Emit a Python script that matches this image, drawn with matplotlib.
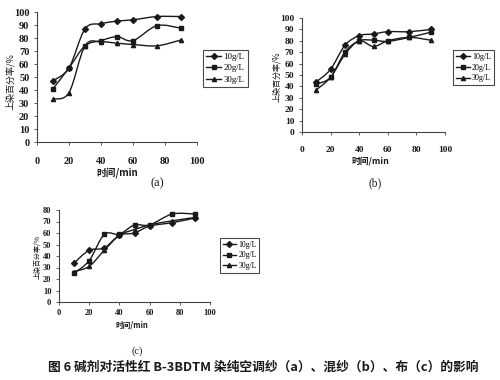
import numpy as np
import matplotlib
matplotlib.use("Agg")
import matplotlib.pyplot as plt
from matplotlib.path import Path
from matplotlib.patches import PathPatch
from matplotlib.lines import Line2D

plt.rcParams['font.family'] = ['Liberation Serif', 'Noto Sans CJK SC', 'DejaVu Sans']

# time points (min)
t = [10, 20, 30, 40, 50, 60, 75, 90]
labels = ['10g/L', '20g/L', '30g/L']

# (a) 纯空调纱
a_10 = [47, 57, 87, 91, 93, 94, 96.5, 96.5]
a_20 = [41, 57, 74, 78, 81, 78, 89.5, 87.5]
a_30 = [33, 38, 74, 77, 76, 75, 74, 78.5]

# (b) 混纱
b_10 = [44, 55, 76, 84.5, 86, 88, 88, 90]
b_20 = [42, 48, 70, 80, 80.5, 79.5, 83, 87.5]
b_30 = [37, 48, 68, 80, 75, 80, 83, 80.5]

# (c) 布
c_10 = [34, 45, 47, 58, 60, 66, 69, 73]
c_20 = [25, 36, 58.7, 59, 67, 67, 76.5, 76.5]
c_30 = [26.5, 31, 45, 58, 63, 67, 70.6, 73.5]

markers = ['D', 's', '^']
INK = '#1a1a1a'


def smooth_path(x, y):
    # excel-style smoothed line: cubic bezier through the points
    x = np.asarray(x, float)
    y = np.asarray(y, float)
    n = len(x)
    verts = [(x[0], y[0])]
    codes = [Path.MOVETO]
    for i in range(n - 1):
        x0, y0 = (x[i - 1], y[i - 1]) if i > 0 else (x[i], y[i])
        x3, y3 = (x[i + 2], y[i + 2]) if i + 2 < n else (x[i + 1], y[i + 1])
        c1 = (x[i] + (x[i + 1] - x0) / 6, y[i] + (y[i + 1] - y0) / 6)
        c2 = (x[i + 1] - (x3 - x[i]) / 6, y[i + 1] - (y3 - y[i]) / 6)
        verts += [c1, c2, (x[i + 1], y[i + 1])]
        codes += [Path.CURVE4] * 3
    return Path(verts, codes)


W, H = 500, 380
fig = plt.figure(figsize=(5, 3.8), dpi=100)


def px(x, y):
    # pixel position (from top-left) -> figure fraction
    return x / W, 1 - y / H


def fr(l, top, r, bottom):
    return [l / W, 1 - bottom / H, (r - l) / W, (bottom - top) / H]


def draw_panel(rect, series, ymax, fs, leg_fs, xpad, leg_pos, ylab_pos, xlab_pos, tag_pos, tag):
    ax = fig.add_axes(rect)
    for ys, m in zip(series, markers):
        ax.add_patch(PathPatch(smooth_path(t, ys), fill=False, ec=INK, lw=1.0))
        ax.plot(t, ys, ls='none', marker=m, ms=3, color=INK)
    ax.set_xlim(0, 100)
    ax.set_ylim(0, ymax)
    ax.set_xticks(range(0, 101, 20))
    ax.set_yticks(range(0, ymax + 1, 10))
    for s in ['top', 'right']:
        ax.spines[s].set_visible(False)
    for s in ['left', 'bottom']:
        ax.spines[s].set_color('#444444')
        ax.spines[s].set_linewidth(0.8)
    ax.tick_params(axis='both', labelsize=fs, length=2, width=0.6, colors='#444444',
                   labelcolor=INK)
    ax.tick_params(axis='x', pad=xpad)
    for lab in ax.get_xticklabels() + ax.get_yticklabels():
        lab.set_fontweight('bold')
    fig.text(*px(*ylab_pos), '上染百分率/%', fontsize=fs - 1, rotation=90, ha='center',
             va='center', family=['Noto Sans CJK SC', 'DejaVu Sans'], color=INK)
    fig.text(*px(*xlab_pos), '时间/min', fontsize=fs - 0.5, ha='center', va='center',
             family=['Noto Sans CJK SC', 'DejaVu Sans'], color=INK, weight='bold')
    fig.text(*px(*tag_pos), tag, fontsize=fs + 1.5, ha='center', va='center', color=INK)
    handles = [Line2D([], [], color=INK, lw=1.0, marker=m, ms=3) for m in markers]
    leg = ax.legend(handles, labels, loc='upper left', bbox_to_anchor=px(*leg_pos),
                    bbox_transform=fig.transFigure, fontsize=leg_fs, frameon=True,
                    fancybox=False, edgecolor=INK, handlelength=1.7, handletextpad=0.3,
                    borderpad=0.35, labelspacing=0.35, borderaxespad=0)
    leg.get_frame().set_linewidth(0.8)
    return ax


draw_panel(fr(37, 12, 197, 142), [a_10, a_20, a_30], 100, 7.5, 6.3, 9,
           (203, 50), (10, 82), (117, 173), (157, 183), '(a)')
draw_panel(fr(302, 18, 445, 132), [b_10, b_20, b_30], 100, 6.8, 5.8, 8,
           (453, 50), (277, 77), (370, 161), (375, 183), '(b)')
draw_panel(fr(59, 210, 210, 302), [c_10, c_20, c_30], 80, 6.0, 5.6, 3,
           (220, 238), (38, 257), (132, 325), (137, 351), '(c)')

fig.text(263 / W, 1 - 367 / H, '图 6 碱剂对活性红 B-3BDTM 染纯空调纱（a）、混纱（b）、布（c）的影响',
         ha='center', va='center', fontsize=9.2, weight='bold',
         family=['Noto Sans CJK SC', 'DejaVu Sans'], color=INK)

fig.savefig('out.png', dpi=100, facecolor='white')
